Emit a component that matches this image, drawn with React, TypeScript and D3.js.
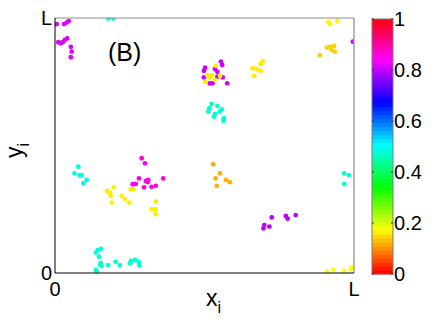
import React from 'react';
import * as d3 from 'd3';

// clusters: [x/L, y/L] positions, one colour value per cluster
const clusterValues = [0.81, 0.47, 0.8, 0.155, 0.47, 0.155, 0.16, 0.135, 0.8, 0.48, 0.155, 0.155, 0.85, 0.115, 0.47, 0.47, 0.79, 0.165];

const clusterPoints: [number, number][][] = [
  [[0.006, 0.976], [0.030, 0.976], [0.039, 0.982], [0.046, 0.988], [0.011, 0.905], [0.019, 0.901], [0.026, 0.905], [0.033, 0.914], [0.041, 0.920], [0.053, 0.887], [0.056, 0.868], [0.053, 0.846]],
  [[0.178, 0.998], [0.195, 0.998]],
  [[0.502, 0.805], [0.498, 0.793], [0.498, 0.767], [0.535, 0.800], [0.543, 0.789], [0.555, 0.829], [0.559, 0.816], [0.543, 0.770], [0.561, 0.767], [0.518, 0.744], [0.527, 0.744], [0.576, 0.744]],
  [[0.509, 0.776], [0.524, 0.776], [0.538, 0.813], [0.502, 0.750], [0.535, 0.757], [0.516, 0.767], [0.552, 0.773]],
  [[0.524, 0.663], [0.516, 0.646], [0.513, 0.633], [0.543, 0.655], [0.558, 0.642], [0.552, 0.633], [0.535, 0.624], [0.532, 0.613], [0.565, 0.607], [0.563, 0.597]],
  [[0.695, 0.831], [0.688, 0.820], [0.661, 0.803], [0.675, 0.799], [0.688, 0.793], [0.666, 0.773]],
  [[0.914, 0.985], [0.920, 0.976], [0.944, 0.989]],
  [[0.909, 0.884], [0.920, 0.887], [0.933, 0.891], [0.925, 0.875], [0.936, 0.868], [0.886, 0.854]],
  [[0.996, 0.907]],
  [[0.078, 0.417], [0.065, 0.391], [0.081, 0.384], [0.089, 0.384], [0.106, 0.365], [0.095, 0.352]],
  [[0.197, 0.336], [0.175, 0.322], [0.184, 0.315], [0.186, 0.303], [0.190, 0.276], [0.223, 0.302], [0.234, 0.290], [0.248, 0.276], [0.253, 0.328], [0.262, 0.328]],
  [[0.337, 0.280], [0.323, 0.250], [0.337, 0.250], [0.337, 0.230]],
  [[0.290, 0.450], [0.301, 0.430], [0.281, 0.371], [0.260, 0.348], [0.270, 0.349], [0.304, 0.361], [0.312, 0.365], [0.310, 0.356], [0.298, 0.336], [0.323, 0.338], [0.337, 0.342], [0.362, 0.371]],
  [[0.529, 0.426], [0.552, 0.391], [0.537, 0.371], [0.572, 0.365], [0.585, 0.356], [0.541, 0.342]],
  [[0.154, 0.095], [0.143, 0.090], [0.137, 0.080], [0.147, 0.064], [0.153, 0.040], [0.151, 0.031], [0.178, 0.031], [0.156, 0.027], [0.203, 0.044], [0.217, 0.031], [0.251, 0.038], [0.254, 0.047], [0.268, 0.051], [0.281, 0.042], [0.282, 0.029], [0.137, 0.012], [0.139, 0.008]],
  [[0.967, 0.391], [0.983, 0.384], [0.967, 0.349]],
  [[0.725, 0.218], [0.700, 0.188], [0.697, 0.175], [0.717, 0.182], [0.772, 0.224], [0.778, 0.213], [0.805, 0.227]],
  [[0.909, 0.005], [0.931, 0.012], [0.967, 0.008], [0.989, 0.015], [0.992, 0.022]],
];

const axisTicks = [0, 1];
const axisTickLabels = ['0', 'L'];
const colorbarTicks = [0, 0.2, 0.4, 0.6, 0.8, 1];
const colorbarLabels = ['0', '0.2', '0.4', '0.6', '0.8', '1'];
const nColors = 64;

const font = 'Liberation Sans, Arial, sans-serif';

// matlab-style hsv colormap
const hsv = (t: number) => d3.hsl((t * 360) % 360, 1, 0.5).toString();

export default function App() {
  const width = 436;
  const height = 335;
  const x = d3.scaleLinear().domain([0, 1]).range([55, 354]);
  const y = d3.scaleLinear().domain([0, 1]).range([273, 18]);
  const cb = d3.scaleLinear().domain([0, 1]).range([274, 19]);
  const cbX = 372;
  const cbW = 21;

  const bands = d3.range(nColors).map(i => i / nColors);

  return (
    <svg width={width} height={height} style={{ position: 'absolute', left: 0, top: 0, background: '#fff' }} fontFamily={font}>
      <defs>
        <clipPath id="plotclip">
          <rect x={x(0)} y={y(1)} width={x(1) - x(0)} height={y(0) - y(1)} />
        </clipPath>
      </defs>

      {/* points */}
      <g clipPath="url(#plotclip)">
        {clusterPoints.map((pts, ci) =>
          pts.map((p, i) => (
            <circle key={ci + '-' + i} cx={x(p[0])} cy={y(p[1])} r={2.4} fill={hsv(clusterValues[ci])} />
          ))
        )}
      </g>

      {/* box */}
      <line x1={x(0)} x2={x(1)} y1={y(1)} y2={y(1)} stroke="#8c8c8c" strokeWidth={1} />
      <line x1={x(1)} x2={x(1)} y1={y(1)} y2={y(0)} stroke="#a0a0a0" strokeWidth={1.5} />
      <line x1={x(0)} x2={x(0)} y1={y(0)} y2={y(1)} stroke="#000" strokeWidth={1} />
      <line x1={x(0)} x2={x(1)} y1={y(0)} y2={y(0)} stroke="#000" strokeWidth={1} />

      {/* tick labels */}
      {axisTicks.map((t, i) => (
        <text key={'xt' + i} x={x(t)} y={296} textAnchor="middle" fontSize={20}>{axisTickLabels[i]}</text>
      ))}
      {axisTicks.map((t, i) => (
        <text key={'yt' + i} x={52} y={y(t) + 7} textAnchor="end" fontSize={20}>{axisTickLabels[i]}</text>
      ))}

      {/* axis labels */}
      <text x={206} y={306} fontSize={23}>
        x<tspan fontSize={16} dy={7}>i</tspan>
      </text>
      <text transform="translate(22,158) rotate(-90)" fontSize={23}>
        y<tspan fontSize={16} dy={7}>i</tspan>
      </text>

      {/* panel label */}
      <text x={108} y={61} fontSize={25}>(B)</text>

      {/* colorbar */}
      {bands.map((t, i) => (
        <rect key={'cb' + i} x={cbX} y={cb(t + 1 / nColors)} width={cbW} height={cb(t) - cb(t + 1 / nColors) + 0.5} fill={hsv(t)} />
      ))}
      <rect x={cbX} y={cb(1)} width={cbW} height={cb(0) - cb(1)} fill="none" stroke="#7a7a7a" strokeWidth={1} />
      {colorbarTicks.map((t, i) => (
        <g key={'cbt' + i}>
          <line x1={cbX} x2={cbX + 2} y1={cb(t)} y2={cb(t)} stroke="#333" />
          <line x1={cbX + cbW - 2} x2={cbX + cbW} y1={cb(t)} y2={cb(t)} stroke="#333" />
          <text x={cbX + cbW + 1} y={cb(t) + 7} fontSize={20}>{colorbarLabels[i]}</text>
        </g>
      ))}
    </svg>
  );
}
